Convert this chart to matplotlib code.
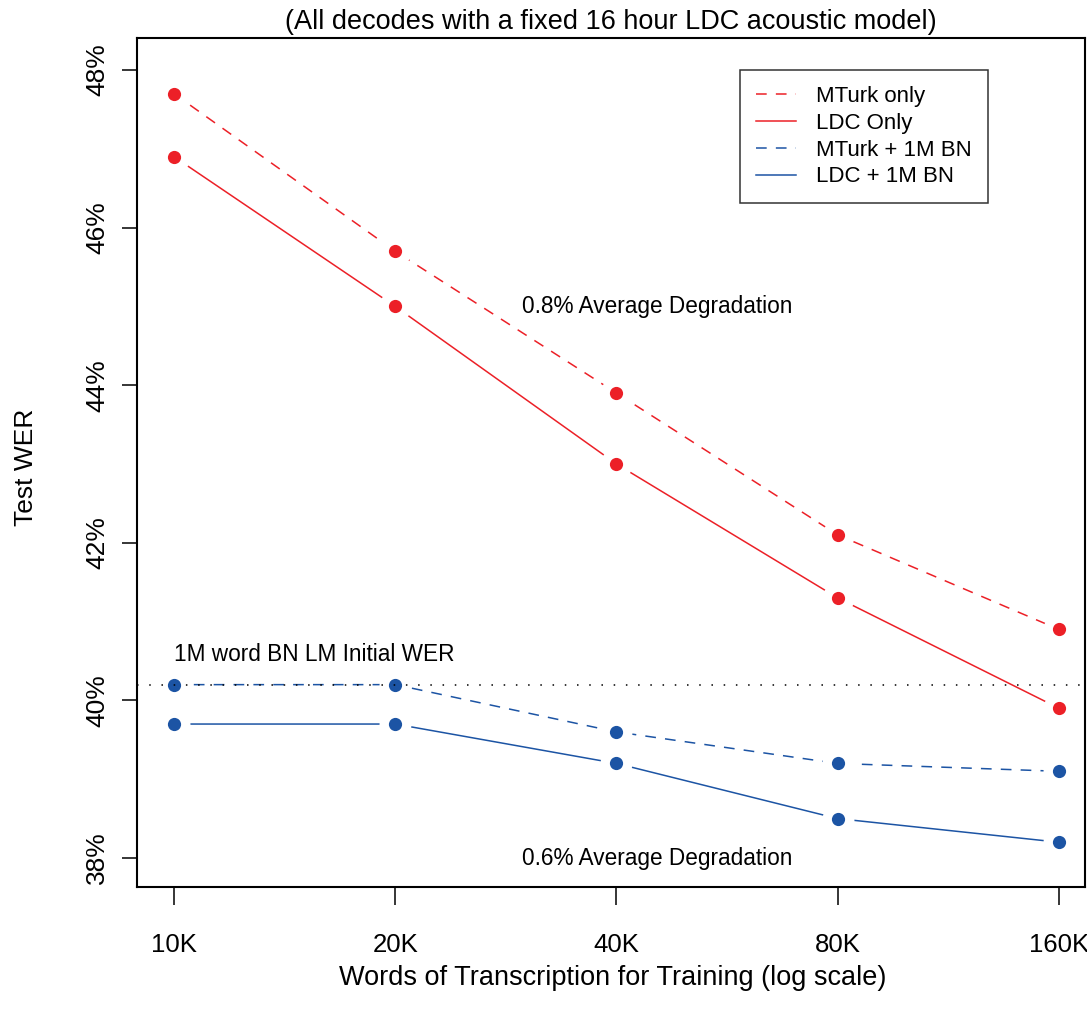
import numpy as np
import matplotlib
matplotlib.use("Agg")
import matplotlib.pyplot as plt
from matplotlib.ticker import FixedLocator, NullLocator

plt.rcParams['font.family'] = ['Liberation Sans', 'DejaVu Sans']

# words of transcription used for LM training
words = [10000, 20000, 40000, 80000, 160000]
word_labels = ['10K', '20K', '40K', '80K', '160K']

# test WER (%) for each LM training condition
mturk_only = [47.7, 45.7, 43.9, 42.1, 40.9]
ldc_only = [46.9, 45.0, 43.0, 41.3, 39.9]
mturk_bn = [40.2, 40.2, 39.6, 39.2, 39.1]
ldc_bn = [39.7, 39.7, 39.2, 38.5, 38.2]
bn_initial = 40.2

yticks = [38, 40, 42, 44, 46, 48]

red = '#ec2027'
blue = '#1c54a4'

W, H = 1087, 1021
fig = plt.figure(figsize=(W / 100, H / 100), dpi=100)
ax = fig.add_axes([137 / W, 1 - 887 / H, (1085 - 137) / W, (887 - 38) / H])

ax.set_xscale('log', base=2)
ax.set_xlim(10000 * 2 ** -0.167, 160000 * 2 ** 0.1175)
ax.set_ylim(37.632, 48.406)

series = [
    (mturk_only, red, (0, (7, 6)), 'MTurk only'),
    (ldc_only, red, '-', 'LDC Only'),
    (mturk_bn, blue, (0, (7, 6)), 'MTurk + 1M BN'),
    (ldc_bn, blue, '-', 'LDC + 1M BN'),
]

# R-style type="b": lines broken around each point
for vals, col, ls, lab in series:
    ax.plot(words, vals, color=col, ls=ls, lw=1.1, label=lab, zorder=2)
for vals, col, ls, lab in series:
    ax.plot(words, vals, ls='none', marker='o', ms=23, mfc='white',
            mec='none', zorder=3)
for vals, col, ls, lab in series:
    ax.plot(words, vals, ls='none', marker='o', ms=9.5, mfc=col,
            mec='none', zorder=5)

ax.axhline(bn_initial, color='black', lw=1.1, ls=(0, (1, 7)), zorder=6)

ax.text(words[0], 40.58, '1M word BN LM Initial WER', fontsize=16.3,
        ha='left', va='center')
ax.text(45400, 45.0, '0.8% Average Degradation',
        fontsize=16.3, ha='center', va='center')
ax.text(45400, 38.0, '0.6% Average Degradation',
        fontsize=16.3, ha='center', va='center')

ax.xaxis.set_major_locator(FixedLocator(words))
ax.set_xticklabels(word_labels)
ax.xaxis.set_minor_locator(NullLocator())
ax.set_yticks(yticks)
ax.set_yticklabels([f'{v}%' for v in yticks], rotation=90, va='center')

ax.tick_params(axis='x', length=13, width=1.1, pad=20, labelsize=18.5)
ax.tick_params(axis='y', length=11, width=1.1, pad=9, labelsize=19)
for sp in ax.spines.values():
    sp.set_linewidth(1.5)

leg = ax.legend(loc='upper left', bbox_to_anchor=((740 - 137) / (1085 - 137), 1 - (70 - 38) / (887 - 38)),
                fontsize=16, frameon=True, fancybox=False, edgecolor='black',
                handlelength=1.8, handletextpad=0.9, labelspacing=0.26,
                borderpad=0.72, borderaxespad=0)
leg.get_frame().set_linewidth(1.1)

fig.text(611 / W, 1 - 22 / H, '(All decodes with a fixed 16 hour LDC acoustic model)',
         fontsize=19.5, ha='center', va='center')
fig.text(613 / W, 1 - 978 / H, 'Words of Transcription for Training (log scale)',
         fontsize=19.5, ha='center', va='center')
fig.text(26 / W, 1 - 467 / H, 'Test WER', fontsize=19, rotation=90,
         ha='center', va='center')

fig.savefig('out.png', dpi=100)
